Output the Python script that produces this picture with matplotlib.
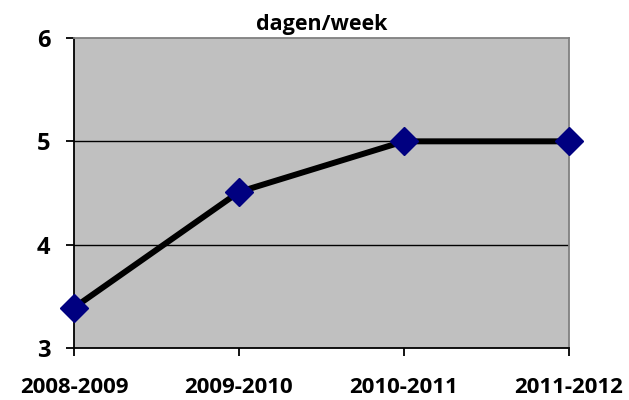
import matplotlib
matplotlib.use("Agg")
import matplotlib.pyplot as plt

seizoenen = ["2008-2009", "2009-2010", "2010-2011", "2011-2012"]
dagen = [3.39, 4.51, 5.0, 5.0]
y_ticks = [3, 4, 5, 6]

plt.rcParams['font.family'] = ['Open Sans', 'DejaVu Sans']

fig = plt.figure(figsize=(6.29, 4.00), dpi=100)
ax = fig.add_axes([0.1176, 0.13, 0.7870, 0.775])
ax.set_facecolor("#C0C0C0")

x = list(range(len(seizoenen)))
ax.plot(x, dagen, color="black", linewidth=4.3, marker="D", markersize=14,
        markerfacecolor="#000080", markeredgecolor="#000080", zorder=3, clip_on=False)

ax.set_xlim(0, len(seizoenen) - 1)
ax.set_ylim(3, 6)
ax.set_yticks(y_ticks)
ax.set_yticklabels([str(v) for v in y_ticks], fontsize=17, fontweight="bold")
ax.set_xticks(x)
ax.set_xticklabels(seizoenen, fontsize=16, fontweight="bold")

# rasterlijnen
for v in y_ticks[1:-1]:
    ax.axhline(v, color="black", linewidth=1.0, zorder=1)

ax.spines["left"].set_color("black")
ax.spines["bottom"].set_color("black")
ax.spines["top"].set_color("#808080")
ax.spines["right"].set_color("#808080")
for s in ax.spines.values():
    s.set_linewidth(1.3)

ax.tick_params(axis="y", direction="out", length=6, width=1.3, pad=11)
ax.tick_params(axis="x", direction="out", length=6, width=1.3, pad=15)

ax.set_title("dagen/week", fontsize=15.5, fontweight="bold", pad=6)

fig.savefig("out.png", dpi=100)
